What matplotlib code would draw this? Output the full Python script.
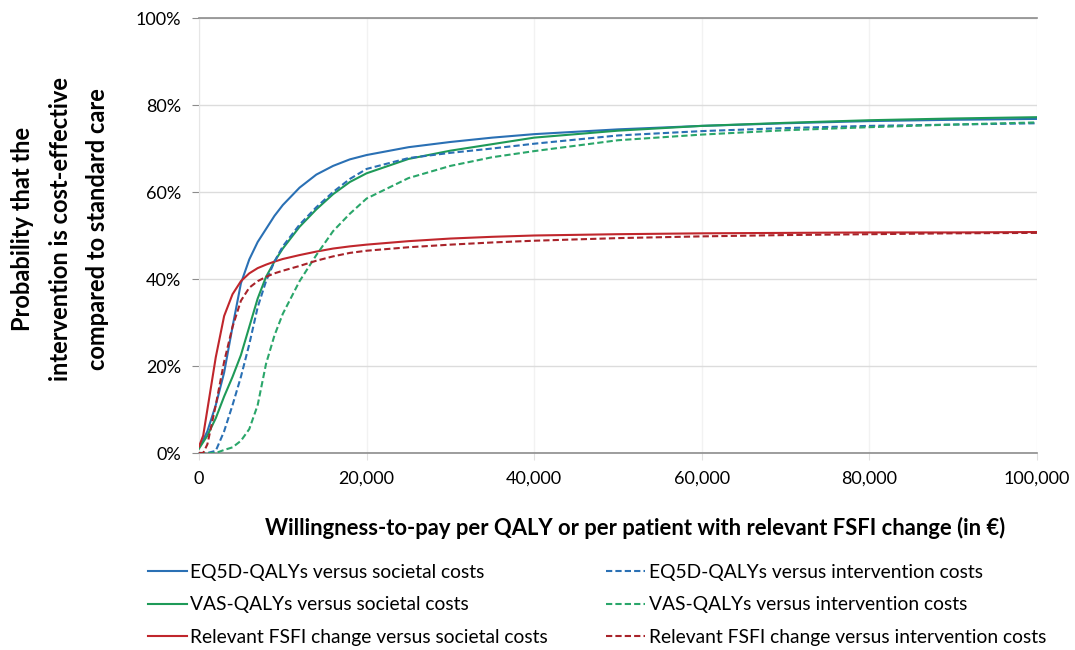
import numpy as np
import matplotlib
matplotlib.use("Agg")
import matplotlib.pyplot as plt
from matplotlib.ticker import FuncFormatter

plt.rcParams['font.family'] = ['Lato', 'DejaVu Sans']

# willingness-to-pay (EUR)
wtp = [0, 500, 1000, 2000, 3000, 4000, 5000, 6000, 7000, 8000, 9000, 10000,
       12000, 14000, 16000, 18000, 20000, 25000, 30000, 35000, 40000,
       50000, 60000, 70000, 80000, 90000, 100000]

# probability cost-effective (%)
eq5d_soc = [1.5, 3, 5, 11, 18.5, 29, 39, 44.5, 48.5, 51.5, 54.5, 57,
            61, 64, 66, 67.5, 68.5, 70.3, 71.5, 72.5, 73.3,
            74.4, 75.2, 75.8, 76.3, 76.6, 76.8]
eq5d_int = [0, 0, 0, 0.5, 5, 11, 17.5, 25, 33.5, 39.5, 44, 47.5,
            52.5, 56.5, 60, 63, 65.3, 67.8, 69, 70, 71.1,
            73, 74, 74.7, 75.2, 75.5, 75.8]
vas_soc = [1, 2.5, 4, 8, 13, 17.5, 22.5, 29, 35.5, 40.5, 44, 47,
           52, 56, 59.5, 62.3, 64.3, 67.6, 69.5, 71, 72.5,
           74.1, 75.2, 75.9, 76.5, 76.9, 77.2]
vas_int = [0, 0, 0, 0, 0.7, 1.3, 2.8, 5.5, 11, 20.5, 27, 32,
           39.5, 45.5, 51, 55, 58.5, 63.2, 66, 68, 69.4,
           71.9, 73.2, 74.2, 74.9, 75.5, 76]
fsfi_soc = [1.5, 4, 10, 22, 31.5, 36.5, 39.5, 41.3, 42.5, 43.3, 44, 44.6,
            45.5, 46.3, 47, 47.5, 47.9, 48.7, 49.3, 49.7, 50,
            50.3, 50.5, 50.6, 50.7, 50.7, 50.8]
fsfi_int = [0, 0, 2, 11, 21, 29, 35, 38, 39.5, 40.5, 41.3, 41.9,
            43, 44.2, 45.2, 46, 46.5, 47.3, 47.9, 48.4, 48.8,
            49.4, 49.8, 50.1, 50.3, 50.5, 50.6]

labels_soc = ['EQ5D-QALYs versus societal costs',
              'VAS-QALYs versus societal costs',
              'Relevant FSFI change versus societal costs']
labels_int = ['EQ5D-QALYs versus intervention costs',
              'VAS-QALYs versus intervention costs',
              'Relevant FSFI change versus intervention costs']

blue = '#2a70b4'
green = '#1e9a58'
red = '#c0262c'

fig = plt.figure(figsize=(10.75, 6.5), dpi=100)
ax = fig.add_axes([199/1075, 1-453/650, (1037-199)/1075, (453-18)/650])

lw = 1.5
dash = (3.0, 1.5)
soc = [eq5d_soc, vas_soc, fsfi_soc]
intv = [eq5d_int, vas_int, fsfi_int]
cols = [blue, green, red]
cols_int = [blue, '#2aa66a', '#a8232a']
h_soc = []
h_int = []
for ys, c, lab in zip(soc, cols, labels_soc):
    l, = ax.plot(wtp, ys, color=c, lw=lw, label=lab, zorder=3)
    h_soc.append(l)
for ys, c, lab in zip(intv, cols_int, labels_int):
    l, = ax.plot(wtp, ys, color=c, lw=lw, ls=(0, dash), label=lab, zorder=3)
    h_int.append(l)

ax.set_xlim(0, 100000)
ax.set_ylim(0, 100)
ax.set_xticks(np.arange(0, 100001, 20000))
ax.set_yticks(np.arange(0, 101, 20))
ax.xaxis.set_major_formatter(FuncFormatter(lambda v, p: f'{int(v):,}'))
ax.yaxis.set_major_formatter(FuncFormatter(lambda v, p: f'{int(v)}%'))
ax.grid(axis='y', color='#dcdcdc', lw=1)
ax.grid(axis='x', color='#f2f2f2', lw=1)
ax.set_axisbelow(True)

ax.spines['right'].set_visible(False)
ax.spines['left'].set_color('#e6e6e6')
ax.spines['bottom'].set_color('#8c8c8c')
ax.spines['top'].set_color('#8c8c8c')
ax.spines['bottom'].set_linewidth(1.2)
ax.spines['top'].set_linewidth(1.2)
ax.tick_params(axis='y', length=5, color='#8c8c8c', labelsize=13, pad=8)
ax.tick_params(axis='x', length=5, color='#e0e0e0', labelsize=13, pad=8)

ax.set_xlabel('Willingness-to-pay per QALY or per patient with relevant FSFI change (in €)',
              fontsize=15.8, fontweight='bold')
ax.xaxis.set_label_coords(0.52, -0.148)
fig.text(60/1075, 1-229/650,
         'Probability that the\nintervention is cost-effective\ncompared to standard care',
         rotation=90, ha='center', va='center', fontsize=17, fontweight='bold',
         linespacing=1.75)

fig.legend(h_soc + h_int, labels_soc + labels_int, ncol=2,
           loc='upper left', bbox_to_anchor=(148/1075, 1-564/650),
           frameon=False, fontsize=13.9, handlelength=2.0, handletextpad=0.2,
           labelspacing=0.8, columnspacing=3.0, borderaxespad=0, borderpad=0)

fig.savefig('out.png', dpi=100)
